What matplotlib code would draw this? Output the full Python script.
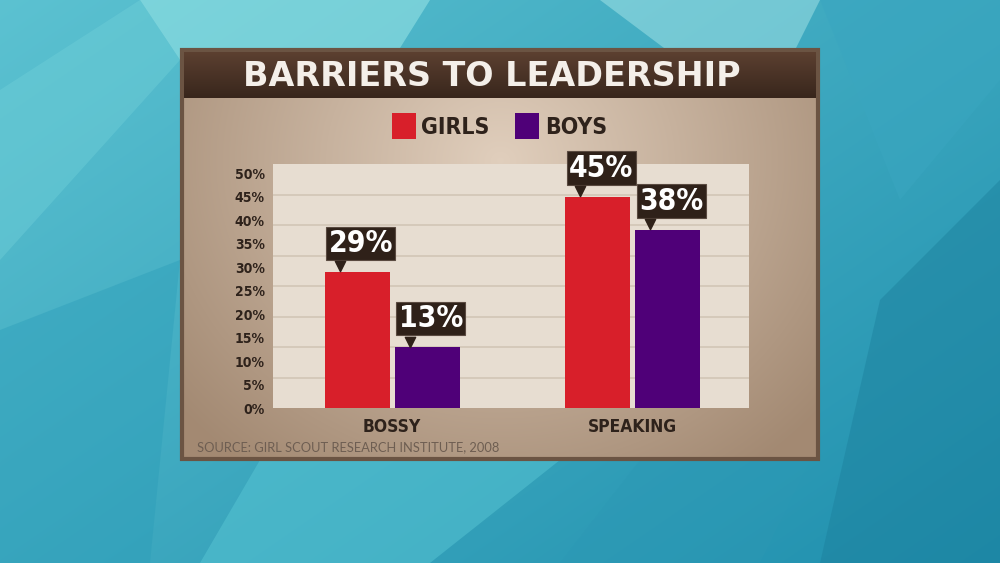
import numpy as np
import matplotlib
matplotlib.use("Agg")
import matplotlib.pyplot as plt
from matplotlib.patches import Rectangle, Polygon

# data
categories = ["BOSSY", "SPEAKING"]
girls = [29, 45]
boys = [13, 38]
series_names = ["GIRLS", "BOYS"]
tick_values = [0, 5, 10, 15, 20, 25, 30, 35, 40, 45, 50]
title = "BARRIERS TO LEADERSHIP"
source = "SOURCE: GIRL SCOUT RESEARCH INSTITUTE, 2008"

RED = "#d81f2a"
PURPLE = "#4f0078"
DARK = "#2e221b"
COND = dict(family="DejaVu Sans", fontstretch="condensed", fontweight="bold")

fig = plt.figure(figsize=(10, 5.63), dpi=100)

# background layer, pixel coords
bg = fig.add_axes([0, 0, 1, 1])
bg.set_xlim(0, 1000)
bg.set_ylim(563, 0)
bg.axis("off")

yy, xx = np.mgrid[0:563, 0:1000]
t = np.clip(0.55 * xx / 1000 + 0.45 * yy / 563, 0, 1)
c1 = np.array([0.36, 0.76, 0.82])
c2 = np.array([0.12, 0.56, 0.68])
img = c1[None, None, :] * (1 - t[..., None]) + c2[None, None, :] * t[..., None]
bg.imshow(img, extent=(0, 1000, 563, 0), aspect="auto", zorder=0)

shapes = [
    ([(140, 0), (430, 0), (330, 160), (180, 60)], "#9ae6e6", 0.55),
    ([(0, 90), (140, 0), (180, 60), (0, 260)], "#6fcfd8", 0.45),
    ([(600, 0), (820, 0), (760, 120)], "#b3ecec", 0.45),
    ([(820, 0), (1000, 0), (1000, 80), (900, 200)], "#3aa6c0", 0.5),
    ([(880, 300), (1000, 180), (1000, 563), (820, 563)], "#1c7f9c", 0.45),
    ([(0, 330), (180, 260), (150, 563), (0, 563)], "#2a9cb8", 0.4),
    ([(260, 460), (560, 460), (430, 563), (200, 563)], "#58c6d4", 0.5),
    ([(640, 460), (820, 440), (760, 563), (560, 563)], "#2c98b4", 0.45),
]
for pts, col, a in shapes:
    bg.add_patch(Polygon(pts, closed=True, facecolor=col, alpha=a, edgecolor="none", zorder=1))

# card
cy, cx = np.mgrid[0:408, 0:636]
r = np.sqrt(((cx - 318) / 420.0) ** 2 + ((cy - 110) / 380.0) ** 2)
r = np.clip(r, 0, 1)
light = np.array([0.88, 0.81, 0.74])
edge = np.array([0.64, 0.54, 0.45])
card = light[None, None, :] * (1 - r[..., None]) + edge[None, None, :] * r[..., None]
bg.imshow(card, extent=(182, 818, 459, 50), aspect="auto", zorder=2)
bg.add_patch(Rectangle((182, 50), 636, 409, facecolor="none", edgecolor="#6b5443", lw=3, zorder=3))

# title bar
tb = np.linspace(0, 1, 50)[:, None, None]
top = np.array([0.36, 0.25, 0.19])
bot = np.array([0.22, 0.15, 0.11])
bar_img = np.repeat(top * (1 - tb) + bot * tb, 2, axis=1)
bg.imshow(bar_img, extent=(184, 816, 98, 52), aspect="auto", zorder=3)
bg.text(492, 76, title, ha="center", va="center", color="#f4efe9",
        fontsize=24, fontweight="bold", family="DejaVu Sans", zorder=4)

# legend
bg.add_patch(Rectangle((392, 113), 24, 26, facecolor=RED, edgecolor="none", zorder=4))
bg.text(421, 127, series_names[0], ha="left", va="center", color=DARK,
        fontsize=16.5, zorder=4, **COND)
bg.add_patch(Rectangle((515, 113), 24, 26, facecolor=PURPLE, edgecolor="none", zorder=4))
bg.text(545, 127, series_names[1], ha="left", va="center", color=DARK,
        fontsize=16.5, zorder=4, **COND)

bg.text(197, 447, source, ha="left", va="center", color="#6e5e52",
        fontsize=9.3, family=["Lato", "DejaVu Sans"], zorder=4)

# plot area
ax = fig.add_axes([0.273, 1 - 408 / 563, 0.476, 244 / 563])
ax.set_facecolor("#e7ddd1")
ax.set_ylim(0, 52)
ax.set_xlim(-0.495, 1.484)
x = np.arange(len(categories))
w = 0.27
off = 0.1455
ax.bar(x - off, girls, w, color=RED, zorder=3)
ax.bar(x + off, boys, w, color=PURPLE, zorder=3)

ax.set_yticks(tick_values)
ax.set_yticklabels([f"{v}%" for v in tick_values], fontsize=10, color=DARK, **COND)
ax.set_yticks(np.linspace(0, 52, 9)[1:-1], minor=True)
ax.grid(which="minor", axis="y", color="#d2c5b6", lw=1.2, zorder=1)
ax.tick_params(axis="y", which="both", length=0, pad=6)
ax.set_xticks(x)
ax.set_xticklabels(categories, fontsize=12.5, color=DARK, **COND)
ax.tick_params(axis="x", length=0, pad=7)
for s in ax.spines.values():
    s.set_visible(False)

# value callouts
for xs, vals in [(x - off, girls), (x + off, boys)]:
    for xi, v in zip(xs, vals):
        ax.annotate(f"{v}%", xy=(xi - w / 2, v), xytext=(4, 14), textcoords="offset pixels",
                    ha="left", va="bottom", color="white", fontsize=21.5, zorder=6,
                    bbox=dict(boxstyle="square,pad=0.08", fc="#2f2119", ec="#5a4a40", lw=0.8),
                    **COND)
        ax.scatter([xi - w / 2 + 15 / 240.5], [v + 5.5 / 4.7], marker="v", s=55,
                   color="#2f2119", zorder=6, clip_on=False)

fig.savefig("out.png", dpi=100)
